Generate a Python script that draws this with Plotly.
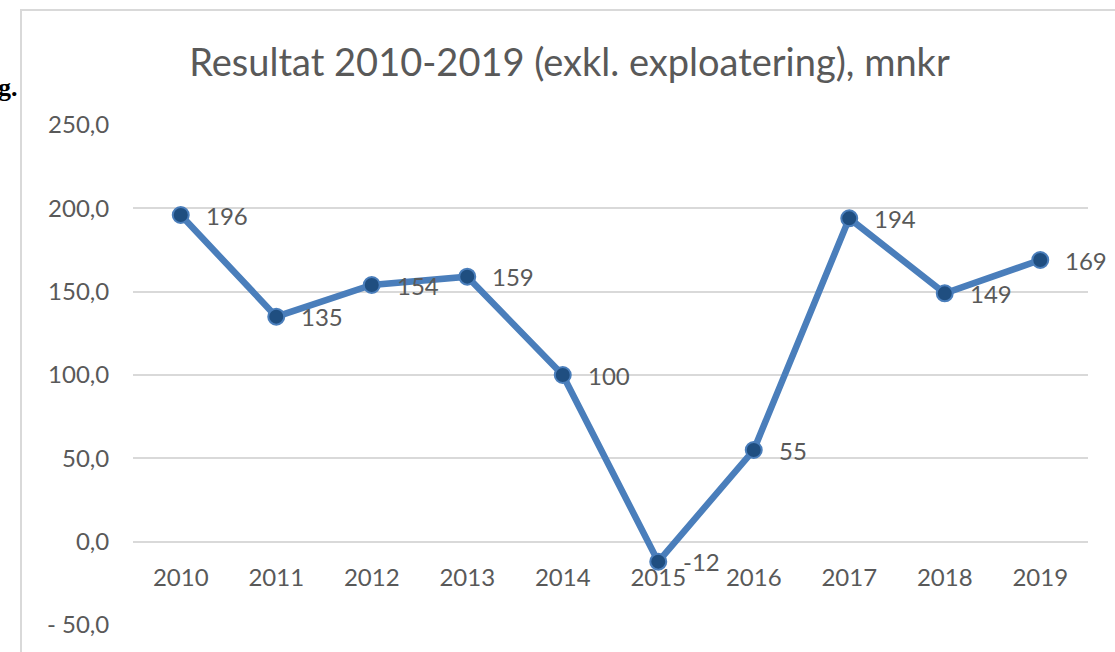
import plotly.graph_objects as go

years = ["2010", "2011", "2012", "2013", "2014", "2015", "2016", "2017", "2018", "2019"]
result = [196, 135, 154, 159, 100, -12, 55, 194, 149, 169]
y_tickvals = [-50, 0, 50, 100, 150, 200, 250]
y_ticktext = ["- 50,0", "0,0", "50,0", "100,0", "150,0", "200,0", "250,0"]
title_text = "Resultat 2010-2019 (exkl. exploatering), mnkr"

W, H = 1115, 652
PAD = 0.6  # small range padding so the edge gridlines stay visible
YMIN, YMAX = -50, 250
PXU = 500 / (YMAX - YMIN)
ML, MR = 133, 27
MT = 125 - PAD * PXU
MB = 27 - PAD * PXU
PW, PH = W - ML - MR, H - MT - MB

def px_x(px):
    return (px - ML) / PW

def px_y(py):
    return (H - MB - py) / PH

FONT = "Lato"
GRAY = "#595959"

fig = go.Figure()
fig.add_trace(go.Scatter(
    x=years, y=result,
    mode="lines+markers",
    line=dict(color="#4a7ebb", width=6.5),
    marker=dict(size=16, color="#1f4e80", line=dict(color="#4a7ebb", width=2)),
    cliponaxis=False,
    showlegend=False,
))

# data labels, placed to the right of each point
for i, v in enumerate(result):
    fig.add_annotation(x=i, y=v, xref="x", yref="y", text=str(v), showarrow=False,
                       xanchor="left", yanchor="middle", xshift=23, yshift=0,
                       font=dict(family=FONT, size=24, color=GRAY))

zero_pos = (0 - (YMIN - PAD)) / ((YMAX + PAD) - (YMIN - PAD))

fig.update_layout(
    width=W, height=H,
    margin=dict(l=ML, r=MR, t=MT, b=MB),
    paper_bgcolor="white", plot_bgcolor="white",
    title=dict(text=title_text, x=569.5 / W, xanchor="center", xref="container",
               y=1 - 63 / H, yanchor="middle", yref="container",
               font=dict(family=FONT, size=38, color=GRAY)),
    xaxis=dict(type="category", anchor="free", position=zero_pos,
               showgrid=False, zeroline=False, showline=False,
               ticks="outside", ticklen=15, tickcolor="rgba(0,0,0,0)",
               tickfont=dict(family=FONT, size=24, color=GRAY),
               range=[-0.5, 9.5]),
    yaxis=dict(range=[YMIN - PAD, YMAX + PAD], tickvals=y_tickvals, ticktext=y_ticktext,
               showgrid=True, gridcolor="#d9d9d9", gridwidth=2,
               zeroline=False, showline=False, ticks="outside", ticklen=18,
               tickcolor="rgba(0,0,0,0)",
               tickfont=dict(family=FONT, size=24, color=GRAY)),
)

# chart frame
fig.add_shape(type="rect", xref="paper", yref="paper",
              x0=px_x(21), x1=px_x(1135), y0=px_y(680), y1=px_y(10),
              line=dict(color="#d9d9d9", width=2), fillcolor="rgba(0,0,0,0)",
              layer="below")

# stray text from surrounding document
fig.add_annotation(text="<b>g.</b>", xref="paper", yref="paper",
                   x=px_x(19), y=px_y(87), xanchor="right", yanchor="middle",
                   showarrow=False, borderpad=0,
                   font=dict(family="Liberation Serif", size=26, color="black"))

fig.write_html("out.html", config={"displayModeBar": False},
               post_script="document.body.style.margin='0';")
